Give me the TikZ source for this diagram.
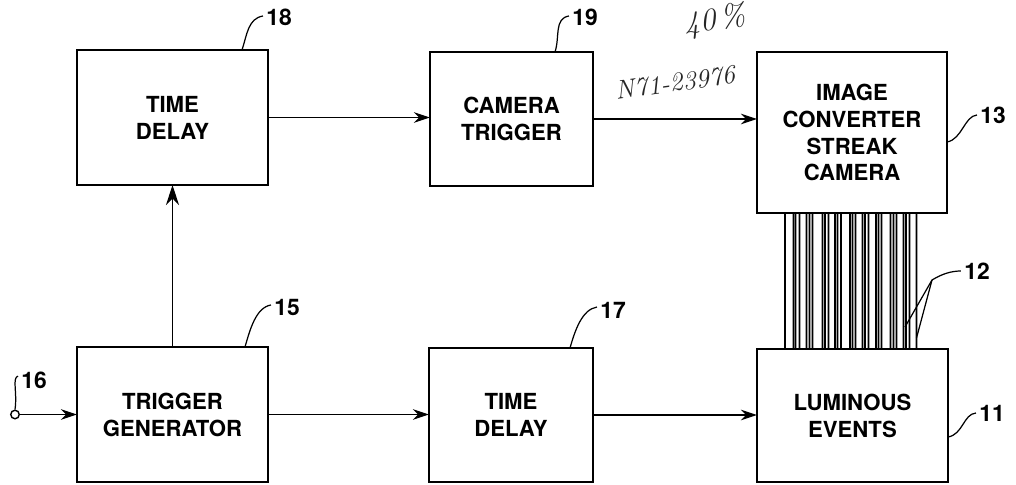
\documentclass[tikz,border=0pt]{standalone}
\usepackage{fontspec}
\setsansfont{TeX Gyre Heros}
\usetikzlibrary{positioning, calc, arrows.meta}

\tikzset{
  block/.style={draw, line width=1.2pt, align=center, inner sep=0pt, outer sep=0pt,
    font=\sffamily\bfseries\fontsize{12.6}{15.3}\selectfont},
  refnum/.style={inner sep=0pt, font=\sffamily\bfseries\fontsize{13}{15}\selectfont},
  leader/.style={line width=0.7pt},
  sig/.style={line width=0.7pt, -{Stealth[length=3.2mm,width=2.1mm]}},
  bigsig/.style={line width=0.7pt, -{Stealth[length=4mm,width=2.6mm]}},
  fiber/.style={line width=0.9pt},
  hand/.style={inner sep=0pt, font=\rmfamily\itshape\fontsize{15}{15}\selectfont, black!85}
}

\begin{document}
\begin{tikzpicture}
    \useasboundingbox (0,0) rectangle (20.32,9.70);

    % Upper row of blocks
    \node[block, minimum width=3.82cm, minimum height=2.70cm] (tdelayA) at (3.45,7.35) {TIME\\DELAY};
    \node[block, minimum width=3.26cm, minimum height=2.68cm] (camtrig) at (10.23,7.32) {CAMERA\\TRIGGER};
    \node[block, minimum width=3.80cm, minimum height=3.22cm] (camera) at (17.04,7.05) {IMAGE\\CONVERTER\\STREAK\\CAMERA};

    % Lower row of blocks
    \node[block, minimum width=3.82cm, minimum height=2.70cm] (triggen) at (3.45,1.41) {TRIGGER\\GENERATOR};
    \node[block, minimum width=3.28cm, minimum height=2.68cm] (tdelayB) at (10.22,1.40) {TIME\\DELAY};
    \node[block, minimum width=3.82cm, minimum height=2.66cm] (events) at (17.05,1.39) {LUMINOUS\\EVENTS};

    % Input terminal
    \node[circle, draw, line width=0.8pt, minimum size=0.17cm, inner sep=0pt] (inp) at (0.30,1.41) {};

    % Signal paths
    \draw[sig] (inp) -- (triggen.west |- inp);
    \draw[bigsig] (triggen.north) -- (tdelayA.south);
    \draw[sig] (tdelayA.east) -- (camtrig.west |- tdelayA.east);
    \draw[sig] (camtrig.east) -- (camera.west |- camtrig.east);
    \draw[sig] (triggen.east) -- (tdelayB.west |- triggen.east);
    \draw[sig] (tdelayB.east) -- (events.west |- tdelayB.east);

    % Fiber bundle between events and camera
    \foreach \dx in {0.56,0.73,0.77,0.85,0.99,1.05,1.11,1.31,1.36,1.43,1.56,1.61,1.68,1.86,1.91,1.97,
                     2.11,2.16,2.23,2.38,2.43,2.49,2.67,2.73,2.79,2.93,2.98,3.05,3.19}
        \draw[fiber] ($(camera.south west)+(\dx,0)$) -- ($(events.north west)+(\dx,0)$);

    % Reference numerals
    \node[refnum] (n18) at (5.58,9.36) {18};
    \node[refnum] (n19) at (11.70,9.36) {19};
    \node[refnum] (n13) at (19.86,7.40) {13};
    \node[refnum] (n15) at (5.74,3.54) {15};
    \node[refnum] (n16) at (0.68,2.10) {16};
    \node[refnum] (n17) at (12.26,3.50) {17};
    \node[refnum] (n11) at (19.84,1.44) {11};
    \node[refnum] (n12) at (19.54,4.28) {12};
    \coordinate (fibjoint) at (18.64,4.10);

    % Leader lines
    \draw[leader] ($(tdelayA.north east)+(-0.52,0)$) .. controls +(0.1,0.3) and +(-0.3,-0.05) .. ($(n18.west)+(-0.06,0.02)$);
    \draw[leader] ($(camtrig.north east)+(-0.76,0)$) .. controls +(0.1,0.3) and +(-0.3,-0.05) .. ($(n19.west)+(-0.06,0.02)$);
    \draw[leader] ($(triggen.north east)+(-0.46,0)$) .. controls +(0.1,0.35) and +(-0.3,-0.05) .. ($(n15.west)+(-0.06,0.06)$);
    \draw[leader] ($(tdelayB.north east)+(-0.46,0)$) .. controls +(0.1,0.35) and +(-0.3,-0.05) .. ($(n17.west)+(-0.06,0.06)$);
    \draw[leader] ($(camera.east)+(0,-0.19)$) .. controls +(0.3,0.05) and +(-0.25,-0.02) .. ($(n13.west)+(-0.06,0)$);
    \draw[leader] ($(events.east)+(0,-0.43)$) .. controls +(0.3,0.05) and +(-0.25,-0.02) .. ($(n11.west)+(-0.06,0)$);
    \draw[leader] (inp.north) .. controls +(0.05,0.35) and +(-0.12,-0.05) .. ($(n16.west)+(-0.06,0.08)$);
    \draw[leader] ($(camera.south west)+(2.96,-2.28)$) -- (fibjoint)
                  .. controls +(0.2,0.12) and +(-0.2,0) .. ($(n12.west)+(-0.06,0)$);
    \draw[leader] ($(camera.south west)+(3.19,-2.50)$) -- (fibjoint);

    % Handwritten accession marks
    \node[hand, rotate=8] (acc) at (13.50,8.05) {N71-23976};
    \node[hand, rotate=8, font=\rmfamily\itshape\fontsize{18}{18}\selectfont] (pct) at (14.30,9.28) {40\,\%};
\end{tikzpicture}
\end{document}
